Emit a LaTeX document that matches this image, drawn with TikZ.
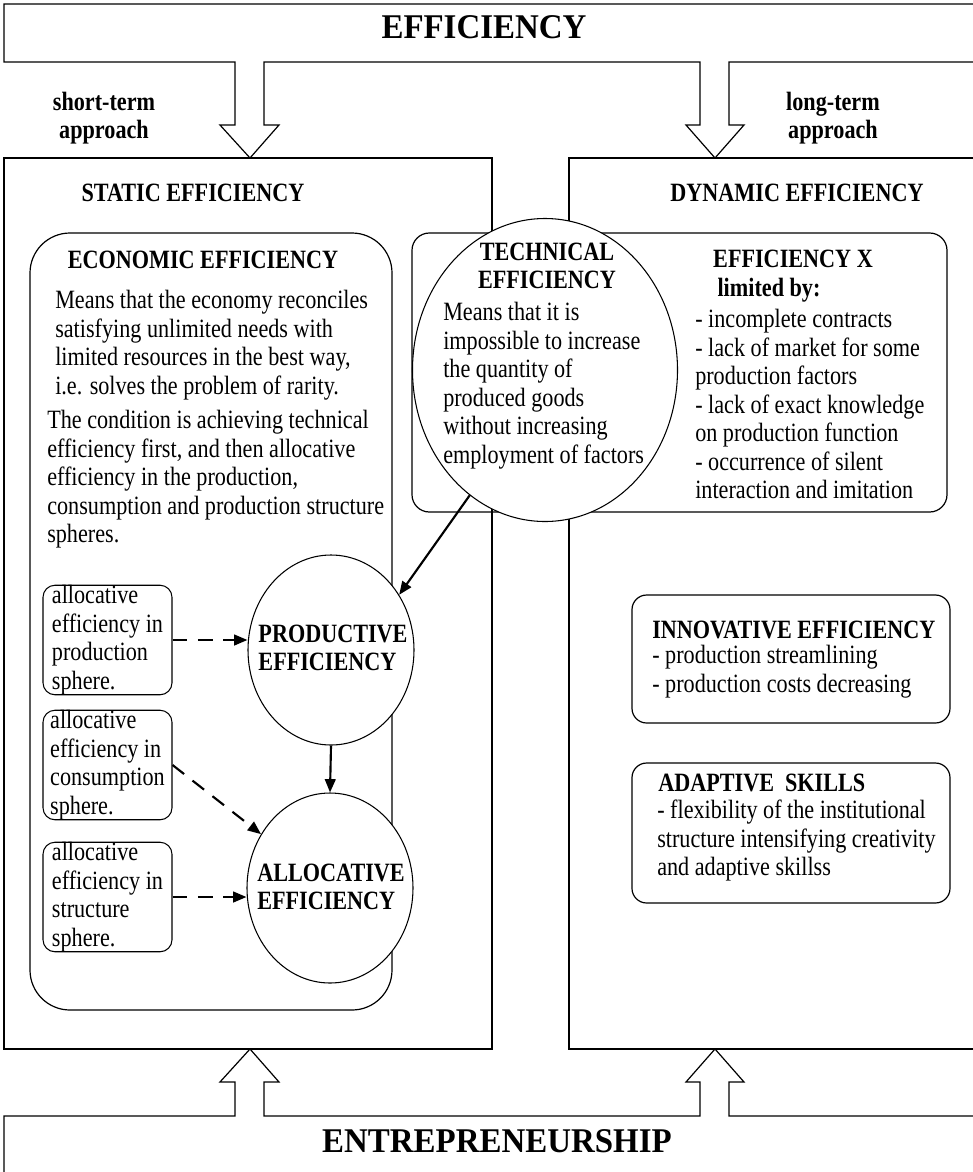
\documentclass[tikz,border=0pt]{standalone}
\usepackage{fontspec}
\setmainfont{Liberation Serif}[FakeStretch=0.84]
\newfontfamily\titlefont{Liberation Serif}[FakeStretch=0.95]
\usetikzlibrary{arrows.meta,shapes.geometric}

\begin{document}
\begin{tikzpicture}[x=0.75pt,y=-0.75pt,
  txt/.style={font=\fontsize{19.8pt}{21.4pt}\selectfont,inner sep=0pt},
  head/.style={font=\fontsize{19.8pt}{21.4pt}\selectfont\bfseries,inner sep=0pt},
  big/.style={font=\titlefont\fontsize{26pt}{30pt}\selectfont\bfseries,inner sep=0pt},
  para/.style={txt,align=left,anchor=north west},
  smallbox/.style={txt,draw,rounded corners=9pt,align=left,minimum width=96.75pt,minimum height=79.5pt,line width=0.8pt},
  oval/.style={ellipse,draw,fill=white,inner sep=0pt,line width=0.8pt},
  frame/.style={line width=0.9pt},
  fullarrow/.style={-{Triangle[length=10pt,width=8pt]},line width=1.6pt},
  dasharrow/.style={-{Triangle[length=10pt,width=8pt]},line width=1.6pt,dash pattern=on 11pt off 8pt},
]

\useasboundingbox (0,0) rectangle (973,1172);
\clip (0,0) rectangle (973,1172);

% top block and arrows down
\draw[frame] (990,4) -- (4,4) -- (4,62) -- (235,62) -- (235,125) -- (220,125) -- (250,158) -- (279,125) -- (264,125) -- (264,62)
  -- (700,62) -- (700,125) -- (686,125) -- (715,158) -- (744,125) -- (729,125) -- (729,62) -- (990,62);
\node[big] (eff) at (484,27) {EFFICIENCY};
\node[head,align=center] (short) at (104,118) {short-term\\approach};
\node[head,align=center] (long) at (833,118) {long-term\\approach};

% the two halves
\draw[frame] (4,158) rectangle (492,1049);
\draw[frame] (569,158) rectangle (990,1049);
\node[head] (static) at (193,193) {STATIC EFFICIENCY};
\node[head] (dynamic) at (797,193) {DYNAMIC EFFICIENCY};

% bottom block and arrows up
\draw[frame] (4,1190) -- (4,1116) -- (235,1116) -- (235,1082) -- (220,1082) -- (250,1049) -- (279,1082) -- (264,1082) -- (264,1116)
  -- (700,1116) -- (700,1082) -- (686,1082) -- (715,1049) -- (744,1082) -- (729,1082) -- (729,1116) -- (990,1116);
\node[big] (entr) at (497,1141) {ENTREPRENEURSHIP};

% economic efficiency
\draw[frame,rounded corners=30pt] (30,233) rectangle (392,1010);
\node[head] (econ) at (203,260) {ECONOMIC EFFICIENCY};
\node[para] (econtxt) at (55,290) {Means that the economy reconciles\\satisfying unlimited needs with\\limited resources in the best way,\\i.e. solves the problem of rarity.};
\node[para] (cond) at (47,410) {The condition is achieving technical\\efficiency first, and then allocative\\efficiency in the production,\\consumption and production structure\\spheres.};

% efficiency X
\draw[frame,rounded corners=13pt] (412,233) rectangle (947,512);
\node[head] (effx) at (793,259) {EFFICIENCY X};
\node[head] (limit) at (769,290) {limited by:};
\node[para] (limits) at (695,309) {- incomplete contracts\\- lack of market for some\\production factors\\- lack of exact knowledge\\on production function\\- occurrence of silent\\interaction and imitation};

% technical efficiency
\node[oval,minimum width=198.75pt,minimum height=227.25pt] (tech) at (545,370) {};
\node[head,align=center] (techtitle) at (547,266) {TECHNICAL\\EFFICIENCY};
\node[para] (techtxt) at (443,302) {Means that it is\\impossible to increase\\the quantity of\\produced goods\\without increasing\\employment of factors};

% allocative spheres
\node[smallbox] (s1) at (107.5,640) {allocative\\efficiency in\\production\\sphere.};
\node[smallbox] (s2) at (107.5,765) {allocative\\efficiency in\\consumption\\sphere.};
\node[smallbox] (s3) at (107.5,897) {allocative\\efficiency in\\structure\\sphere.};

\node[oval,minimum width=124.5pt,minimum height=142.5pt] (prod) at (331,650) {};
\node[head,align=left] (prodtxt) at (333,648) {PRODUCTIVE\\EFFICIENCY};
\node[oval,minimum width=124.5pt,minimum height=142.5pt] (alloc) at (330,888) {};
\node[head,align=left] (alloctxt) at (331,887) {ALLOCATIVE\\EFFICIENCY};

\draw[fullarrow] (tech.-121) -- (prod.39);
\draw[fullarrow] (prod.south) -- (alloc.north);
\draw[dasharrow] (s1.east) -- (s1.east -| prod.west);
\draw[dasharrow] (s2.east) -- (alloc.142);
\draw[dasharrow] (s3.east) -- (s3.east -| alloc.west);

% dynamic side
\draw[frame,rounded corners=11pt] (632,595) rectangle (950,723);
\node[head,anchor=west] (innov) at (652,630) {INNOVATIVE EFFICIENCY};
\node[para] (innovtxt) at (652,645) {- production streamlining\\- production costs decreasing};

\draw[frame,rounded corners=11pt] (632,763) rectangle (950,903);
\node[head,anchor=west] (adapt) at (658,783) {ADAPTIVE\ \ SKILLS};
\node[para] (adapttxt) at (657,800) {- flexibility of the institutional\\structure intensifying creativity\\and adaptive skillss};

\end{tikzpicture}
\end{document}
